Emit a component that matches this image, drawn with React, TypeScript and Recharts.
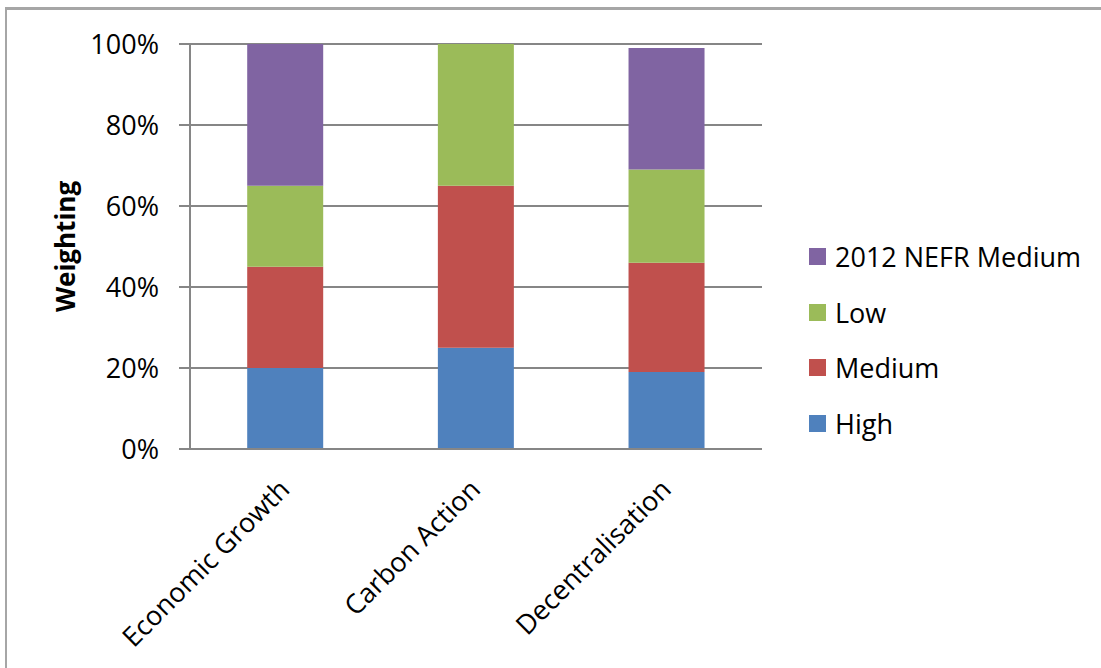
import React from 'react';
import { BarChart, Bar, XAxis, YAxis, CartesianGrid, Legend } from 'recharts';

const categories = ['Economic Growth', 'Carbon Action', 'Decentralisation'];
const high = [20, 25, 19];
const medium = [25, 40, 27];
const low = [20, 35, 23];
const nefr = [35, 0, 30];
const yTicks = [0, 20, 40, 60, 80, 100];
const boundaryTicks = [0, 1, 2, 3];

const series = [
  { key: 'high', name: 'High', color: '#4F81BD' },
  { key: 'medium', name: 'Medium', color: '#C0504D' },
  { key: 'low', name: 'Low', color: '#9BBB59' },
  { key: 'nefr', name: '2012 NEFR Medium', color: '#8064A2' },
];

const data = categories.map((c, i) => ({
  name: c,
  high: high[i],
  medium: medium[i],
  low: low[i],
  nefr: nefr[i],
}));

const FONT = '"Open Sans", sans-serif';
const GRAY = '#868686';
const FS = 27;

const XTick = (props: any) => {
  const { x, y, payload } = props;
  return (
    <g transform={`translate(${x + 6},${y + 42}) rotate(-45)`}>
      <text x={0} y={0} textAnchor="end" fontSize={FS} fontFamily={FONT} fill="#000">
        {payload.value}
      </text>
    </g>
  );
};

const LegendContent = () => {
  const items = [...series].reverse();
  return (
    <div style={{ fontFamily: FONT, fontSize: FS, color: '#000' }}>
      {items.map((s) => (
        <div key={s.key} style={{ display: 'flex', alignItems: 'center', height: 55.5 }}>
          <span style={{ display: 'inline-block', width: 17, height: 17, background: s.color, marginRight: 9 }} />
          <span style={{ lineHeight: '27px' }}>{s.name}</span>
        </div>
      ))}
    </div>
  );
};

export default function App() {
  return (
    <div style={{ position: 'absolute', left: 0, top: 0, width: 1101, height: 668, background: '#fff', overflow: 'hidden' }}>
      <div
        style={{
          position: 'absolute',
          left: 5,
          top: 7,
          width: 1200,
          height: 800,
          borderLeft: '2px solid #A6A6A6',
          borderTop: '3px solid #A6A6A6',
        }}
      />
      <div style={{ position: 'absolute', left: 0, top: 0 }}>
        <BarChart
          width={1101}
          height={668}
          data={data}
          margin={{ top: 44, right: 339, bottom: 159, left: 90 }}
          barCategoryGap="30%"
          style={{ fontFamily: FONT }}
        >
          <CartesianGrid vertical={false} stroke={GRAY} strokeWidth={2} />
          <XAxis
            xAxisId="b"
            type="number"
            dataKey={() => 0}
            domain={[0, 3]}
            ticks={boundaryTicks}
            height={0}
            axisLine={false}
            tick={false}
            tickSize={11}
            tickLine={{ stroke: GRAY, strokeWidth: 2 }}
          />
          <XAxis
            dataKey="name"
            height={60}
            interval={0}
            axisLine={{ stroke: GRAY, strokeWidth: 2 }}
            tickLine={false}
            tickSize={0}
            tickMargin={0}
            tick={<XTick />}
          />
          <YAxis
            width={100}
            domain={[0, 100]}
            ticks={yTicks}
            tickFormatter={(v: number) => `${v}%`}
            axisLine={{ stroke: GRAY, strokeWidth: 2 }}
            tickLine={{ stroke: GRAY, strokeWidth: 2 }}
            tickSize={11}
            tickMargin={20}
            tick={{ fontSize: FS, fontFamily: FONT, fill: '#000' }}
            label={{
              value: 'Weighting',
              angle: -90,
              position: 'insideLeft',
              offset: -24,
              style: { fontSize: 26, fontWeight: 'bold', fontFamily: FONT, fill: '#000', textAnchor: 'middle' },
            }}
          />
          {series.map((s) => (
            <Bar key={s.key} dataKey={s.key} name={s.name} stackId="a" fill={s.color} isAnimationActive={false} />
          ))}
          <Legend
            layout="vertical"
            align="center"
            verticalAlign="middle"
            content={<LegendContent />}
            wrapperStyle={{ left: 809, top: 229, width: 290 }}
          />
        </BarChart>
      </div>
    </div>
  );
}
